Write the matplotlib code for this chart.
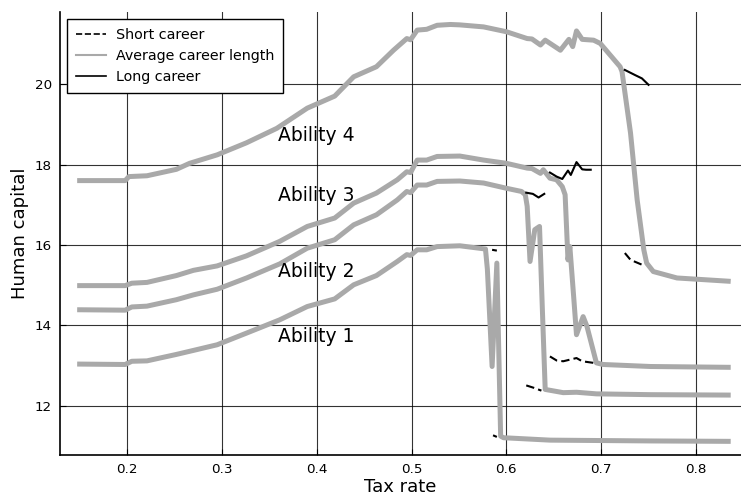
import numpy as np
import matplotlib
matplotlib.use('Agg')
import matplotlib.pyplot as plt
from matplotlib.lines import Line2D

# average career length, one curve per ability level
x1 = [0.150, 0.198, 0.205, 0.221, 0.252, 0.270, 0.295, 0.326, 0.361, 0.390, 0.419, 0.439, 0.463, 0.485, 0.495, 0.499,
      0.506, 0.516, 0.527, 0.551, 0.578, 0.580, 0.585, 0.590, 0.594, 0.597, 0.646, 0.752, 0.834]
y1 = [13.04, 13.03, 13.11, 13.12, 13.28, 13.38, 13.52, 13.81, 14.14, 14.47, 14.66, 15.01, 15.24, 15.59, 15.76, 15.74,
      15.88, 15.88, 15.96, 15.98, 15.90, 15.40, 12.98, 15.55, 11.25, 11.21, 11.15, 11.13, 11.12]

x2 = [0.150, 0.198, 0.205, 0.221, 0.252, 0.270, 0.295, 0.326, 0.361, 0.390, 0.419, 0.439, 0.463, 0.485, 0.495, 0.499,
      0.506, 0.516, 0.527, 0.551, 0.576, 0.600, 0.616, 0.620, 0.622, 0.625, 0.630, 0.635, 0.638, 0.641, 0.660, 0.674,
      0.695, 0.752, 0.834]
y2 = [14.39, 14.38, 14.46, 14.48, 14.64, 14.76, 14.90, 15.18, 15.53, 15.92, 16.13, 16.50, 16.75, 17.12, 17.33, 17.30,
      17.49, 17.49, 17.58, 17.59, 17.54, 17.41, 17.33, 17.25, 16.96, 15.59, 16.38, 16.46, 14.40, 12.41, 12.33, 12.34,
      12.30, 12.28, 12.27]

x3 = [0.150, 0.198, 0.205, 0.221, 0.252, 0.270, 0.295, 0.326, 0.361, 0.390, 0.419, 0.439, 0.463, 0.485, 0.495, 0.499,
      0.506, 0.516, 0.527, 0.551, 0.576, 0.600, 0.622, 0.627, 0.636, 0.639, 0.646, 0.653, 0.659, 0.662, 0.665, 0.667,
      0.671, 0.674, 0.681, 0.685, 0.695, 0.702, 0.752, 0.834]
y3 = [14.99, 14.99, 15.05, 15.07, 15.24, 15.37, 15.48, 15.73, 16.09, 16.46, 16.67, 17.04, 17.29, 17.62, 17.82, 17.80,
      18.11, 18.11, 18.20, 18.21, 18.11, 18.03, 17.91, 17.90, 17.78, 17.87, 17.66, 17.62, 17.45, 17.25, 15.63, 15.96,
      14.72, 13.77, 14.22, 13.98, 13.07, 13.03, 12.98, 12.96]

x4 = [0.150, 0.198, 0.202, 0.221, 0.252, 0.266, 0.295, 0.326, 0.358, 0.390, 0.419, 0.439, 0.463, 0.481, 0.495, 0.499,
      0.506, 0.516, 0.527, 0.541, 0.551, 0.576, 0.600, 0.622, 0.627, 0.636, 0.641, 0.657, 0.666, 0.670, 0.674, 0.680,
      0.692, 0.699, 0.720, 0.722, 0.731, 0.738, 0.745, 0.748, 0.755, 0.780, 0.834]
y4 = [17.60, 17.60, 17.70, 17.72, 17.88, 18.03, 18.24, 18.54, 18.90, 19.40, 19.70, 20.18, 20.43, 20.84, 21.13, 21.10,
      21.34, 21.36, 21.46, 21.48, 21.47, 21.42, 21.30, 21.13, 21.12, 20.97, 21.09, 20.84, 21.11, 20.93, 21.32, 21.11,
      21.09, 21.01, 20.43, 20.31, 18.78, 17.12, 15.88, 15.55, 15.34, 15.18, 15.10]

# short career pieces
sx1a = [0.585, 0.590]
sy1a = [15.88, 15.86]
sx1b = [0.586, 0.590]
sy1b = [11.27, 11.23]
sx2 = [0.621, 0.629, 0.637]
sy2 = [12.51, 12.45, 12.38]
sx3 = [0.646, 0.653, 0.660, 0.667, 0.674, 0.680, 0.692]
sy3 = [13.23, 13.13, 13.11, 13.15, 13.19, 13.11, 13.07]
sx4 = [0.725, 0.731, 0.743]
sy4 = [15.80, 15.63, 15.51]

# long career pieces
lx2 = [0.621, 0.628, 0.634, 0.640]
ly2 = [17.30, 17.27, 17.18, 17.27]
lx3 = [0.646, 0.653, 0.659, 0.665, 0.668, 0.674, 0.680, 0.684, 0.689]
ly3 = [17.80, 17.70, 17.64, 17.85, 17.74, 18.06, 17.88, 17.87, 17.87]
lx4 = [0.725, 0.736, 0.743, 0.750]
ly4 = [20.35, 20.22, 20.14, 19.98]

labels = ['Ability 1', 'Ability 2', 'Ability 3', 'Ability 4']
label_x = [0.359, 0.359, 0.359, 0.359]
label_y = [13.72, 15.33, 17.22, 18.73]

fig = plt.figure(figsize=(7.41, 4.98), dpi=100)
ax = fig.add_axes([0.0814, 0.0863, 0.9186, 0.8896])

grey = '#a9a9a9'
for xs, ys in [(x1, y1), (x2, y2), (x3, y3), (x4, y4)]:
    ax.plot(xs, ys, color=grey, lw=3.6, solid_joinstyle='round', zorder=3)
for xs, ys in [(sx1a, sy1a), (sx1b, sy1b), (sx2, sy2), (sx3, sy3), (sx4, sy4)]:
    ax.plot(xs, ys, color='black', lw=1.5, ls=(0, (4, 2)), zorder=4)
for xs, ys in [(lx2, ly2), (lx3, ly3), (lx4, ly4)]:
    ax.plot(xs, ys, color='black', lw=1.5, zorder=4)

for lab, tx, ty in zip(labels, label_x, label_y):
    ax.text(tx, ty, lab, fontsize=13.5, ha='left', va='center', zorder=5)

ax.set_xlim(0.1296, 0.8475)
ax.set_ylim(10.78, 21.79)
ax.set_xticks([0.2, 0.3, 0.4, 0.5, 0.6, 0.7, 0.8])
ax.set_yticks([12, 14, 16, 18, 20])
ax.grid(True, color='black', lw=0.8, alpha=0.8)
ax.set_axisbelow(True)
ax.spines['top'].set_visible(False)
ax.spines['right'].set_visible(False)
ax.spines['left'].set_linewidth(1.2)
ax.spines['bottom'].set_linewidth(1.2)
ax.tick_params(direction='in', length=4, labelsize=9.7, pad=6)
ax.set_xlabel('Tax rate', fontsize=13, labelpad=1)
ax.set_ylabel('Human capital', fontsize=13)

handles = [Line2D([], [], color='black', lw=1.2, ls='--'),
           Line2D([], [], color=grey, lw=1.5),
           Line2D([], [], color='black', lw=1.2)]
leg = ax.legend(handles, ['Short career', 'Average career length', 'Long career'],
                loc='upper left', bbox_to_anchor=(0.0098, 0.984), borderaxespad=0,
                fontsize=10.3, fancybox=False, framealpha=1, edgecolor='black',
                handlelength=2.1, handletextpad=0.7, borderpad=0.6)
leg.get_frame().set_linewidth(1.0)
leg.set_zorder(6)

fig.savefig('out.png', dpi=100)
